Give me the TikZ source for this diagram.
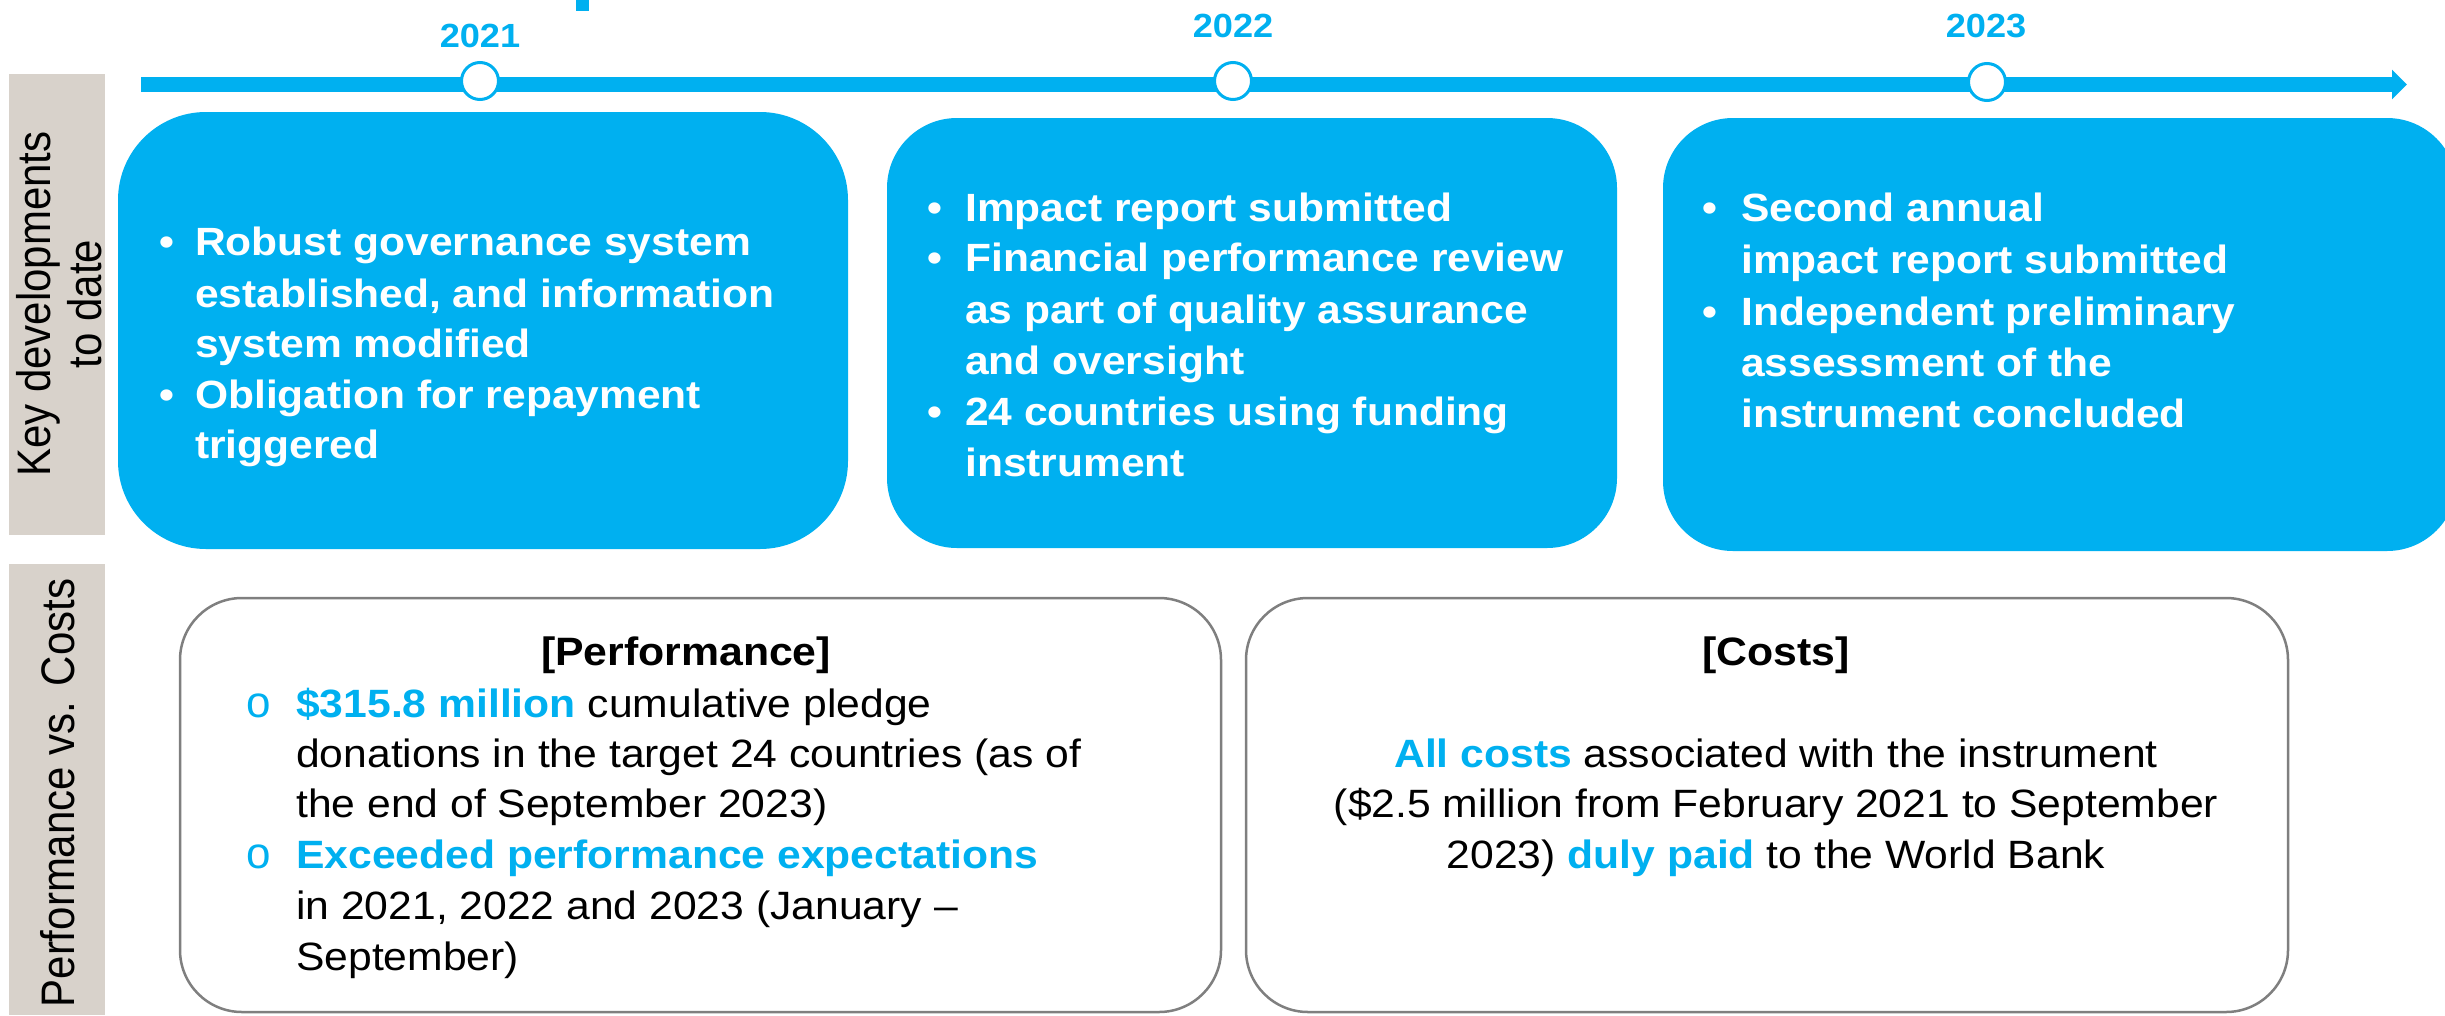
\documentclass[tikz,border=0pt]{standalone}
\usepackage{fontspec}
\setmainfont{Liberation Sans}[FakeStretch=1.08]
\newfontfamily\plainf{Liberation Sans}
\usetikzlibrary{arrows.meta}
\definecolor{skyb}{RGB}{0,176,240}
\definecolor{barg}{RGB}{216,210,203}
\definecolor{bord}{RGB}{127,127,127}
\begin{document}
\begin{tikzpicture}[x=1pt,y=-1pt,
  yr/.style={text=skyb,font=\fontsize{33.5}{40}\selectfont\bfseries,anchor=base,inner sep=0},
  wt/.style={text=white,font=\fontsize{39.4}{46}\selectfont\bfseries,anchor=base west,inner sep=0},
  wbul/.style={text=white,font=\fontsize{39.4}{46}\selectfont\bfseries,anchor=base,inner sep=0},
  bt/.style={text=black,font=\fontsize{39.5}{46}\selectfont,anchor=base west,inner sep=0},
  bc/.style={text=black,font=\fontsize{39.5}{46}\selectfont,anchor=base,inner sep=0},
  ttl/.style={text=black,font=\fontsize{39.6}{46}\selectfont\bfseries,anchor=base,inner sep=0},
  obul/.style={text=skyb,font=\plainf\fontsize{44}{46}\selectfont,anchor=base,inner sep=0},
  bluebox/.style={fill=skyb,draw=none,inner sep=0},
  whitebox/.style={fill=white,draw=bord,line width=2.5pt,rounded corners=62pt,inner sep=0,minimum width=1041pt,minimum height=414pt},
  sidebar/.style={fill=barg,draw=none,inner sep=0,anchor=north west,minimum width=96pt},
  rottxt/.style={text=black,font=\plainf\fontsize{42}{46}\selectfont,align=center,inner sep=0},
  yearc/.style={circle,draw=skyb,fill=white,line width=3pt,minimum size=37pt,inner sep=0},
  hl/.style={text=skyb,font=\bfseries}
]
\path[use as bounding box] (0,0) rectangle (2445,1015);
\clip (0,0) rectangle (2445,1015);

% clipped fragment at top
\fill[skyb] (576,0) rectangle (589,11);

% side bars
\node[sidebar,minimum height=461pt] (sb1) at (9,74) {};
\node[sidebar,minimum height=451pt] (sb2) at (9,564) {};
\begin{scope}[shift={(59,304)}]
  \node[rottxt,rotate=90,yscale=1.12] (sbt1) at (0,0) {Key developments\\to date};
\end{scope}
\begin{scope}[shift={(58,793)}]
  \node[rottxt,rotate=90,yscale=1.12] (sbt2) at (0,0) {Performance vs. Costs};
\end{scope}

% timeline
\coordinate (tl0) at (141,84.5);
\coordinate (tl1) at (2407,84.5);
\draw[skyb,line width=14.5pt,-{Triangle[length=15pt,width=29pt]}] (tl0) -- (tl1);
\node[yearc] (c21) at (480,81) {};
\node[yearc] (c22) at (1233,81) {};
\node[yearc] (c23) at (1987,82) {};
\node[yr] (y21) at (480,47) {2021};
\node[yr] (y22) at (1233,37) {2022};
\node[yr] (y23) at (1986,37) {2023};

% blue boxes
\node[bluebox,rounded corners=88pt,minimum width=730pt,minimum height=437pt] (k1) at (483,330.5) {};
\node[bluebox,rounded corners=70pt,minimum width=730pt,minimum height=430pt] (k2) at (1252,333) {};
\node[bluebox,rounded corners=70pt,minimum width=794pt,minimum height=433pt] (k3) at (2060,334.5) {};

% box 1 text
\node[wbul] (k1b1) at (167,255) {•};
\node[wt] (k1l1) at (195,255) {Robust governance system};
\node[wt] (k1l2) at (195,307) {established, and information};
\node[wt] (k1l3) at (195,357) {system modified};
\node[wbul] (k1b2) at (167,408) {•};
\node[wt] (k1l4) at (195,408) {Obligation for repayment};
\node[wt] (k1l5) at (195,458) {triggered};

% box 2 text
\node[wbul] (k2b1) at (935,221) {•};
\node[wt] (k2l1) at (965,221) {Impact report submitted};
\node[wbul] (k2b2) at (935,271) {•};
\node[wt] (k2l2) at (965,271) {Financial performance review};
\node[wt] (k2l3) at (965,323) {as part of quality assurance};
\node[wt] (k2l4) at (965,374) {and oversight};
\node[wbul] (k2b3) at (935,425) {•};
\node[wt] (k2l5) at (965,425) {24 countries using funding};
\node[wt] (k2l6) at (965,476) {instrument};

% box 3 text
\node[wbul] (k3b1) at (1710,221) {•};
\node[wt] (k3l1) at (1741,221) {Second annual};
\node[wt] (k3l2) at (1741,273) {impact report submitted};
\node[wbul] (k3b2) at (1710,325) {•};
\node[wt] (k3l3) at (1741,325) {Independent preliminary};
\node[wt] (k3l4) at (1741,376) {assessment of the};
\node[wt] (k3l5) at (1741,427) {instrument concluded};

% bottom boxes
\node[whitebox] (pb) at (700.5,805) {};
\node[whitebox,minimum width=1042pt] (cb) at (1767,805) {};

% performance text
\node[ttl] (pt) at (686,665) {[Performance]};
\node[obul] (pb1) at (259,717) {o};
\node[bt] (pl1) at (296,717) {{\color{skyb}\bfseries\$315.8 million} cumulative pledge};
\node[bt] (pl2) at (296,767) {donations in the target 24 countries (as of};
\node[bt] (pl3) at (296,817) {the end of September 2023)};
\node[obul] (pb2) at (259,868) {o};
\node[bt] (pl4) at (296,868) {{\color{skyb}\bfseries Exceeded performance expectations}};
\node[bt] (pl5) at (296,919) {in 2021, 2022 and 2023 (January –};
\node[bt] (pl6) at (296,970) {September)};

% costs text
\node[ttl] (ct) at (1776,665) {[Costs]};
\node[bc] (cl1) at (1776,767) {{\color{skyb}\bfseries All costs} associated with the instrument};
\node[bc] (cl2) at (1776,817) {(\$2.5 million from February 2021 to September};
\node[bc] (cl3) at (1776,868) {2023) {\color{skyb}\bfseries duly paid} to the World Bank};
\end{tikzpicture}
\end{document}
